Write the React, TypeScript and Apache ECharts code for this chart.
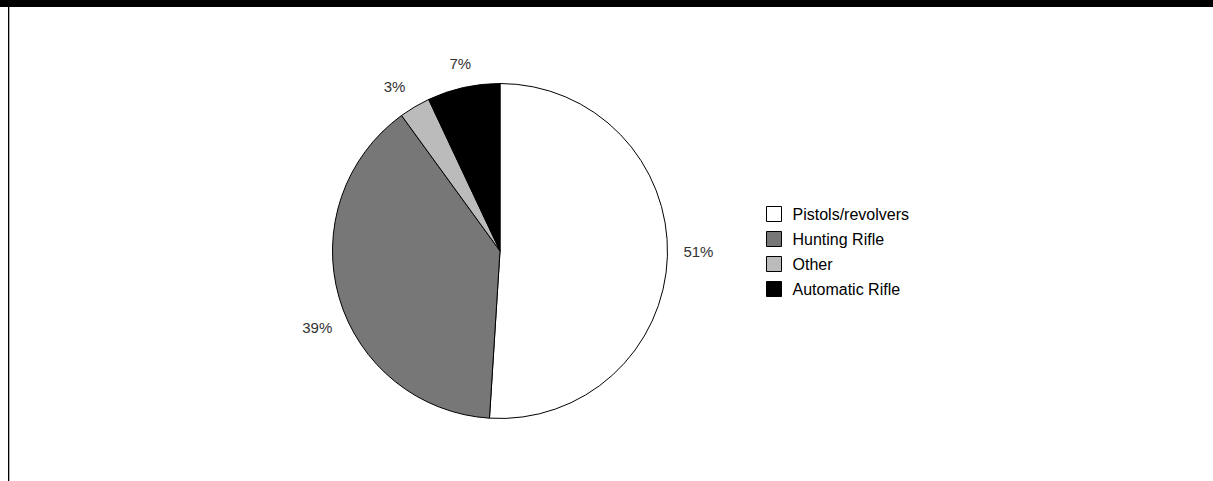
import React, { useEffect, useRef } from "react";
import * as echarts from "echarts";

const categories = ["Pistols/revolvers", "Hunting Rifle", "Other", "Automatic Rifle"];
const shares = [51, 39, 3, 7];
const colors = ["#ffffff", "#777777", "#bbbbbb", "#000000"];

// small per-label nudges to mimic the original label placement
const labelNudgeX = [3, 5, -6, 3];
const labelNudgeY = [-6, 22, 4, 3];

export default function App() {
  const ref = useRef<HTMLDivElement>(null);
  useEffect(() => {
    if (!ref.current) return;
    const chart = echarts.init(ref.current, undefined, { renderer: "svg" });
    chart.setOption({
      animation: false,
      backgroundColor: "#ffffff",
      textStyle: { fontFamily: "Liberation Sans, Arial, sans-serif" },
      graphic: [
        { type: "rect", shape: { x: 0, y: 0, width: 1213, height: 7 }, style: { fill: "#000" } },
        { type: "rect", shape: { x: 8, y: 7, width: 1.3, height: 474 }, style: { fill: "#000" } },
      ],
      legend: {
        orient: "vertical",
        left: 761,
        top: 201,
        itemWidth: 15,
        itemHeight: 15,
        itemGap: 9,
        icon: "rect",
        data: categories,
        itemStyle: { borderColor: "#000", borderWidth: 1 },
        textStyle: { fontSize: 16, color: "#000", padding: [0, 0, 0, 6] },
      },
      series: [
        {
          type: "pie",
          center: [500, 251],
          radius: 167.5,
          startAngle: 90,
          clockwise: true,
          avoidLabelOverlap: false,
          itemStyle: { borderColor: "#000", borderWidth: 1 },
          label: {
            show: true,
            position: "outside",
            formatter: "{c}%",
            fontSize: 15,
            color: "#333",
          },
          labelLine: { show: true, length: 28, length2: 0, lineStyle: { width: 0, opacity: 0 } },
          labelLayout: (params: any) => {
            const pts = params.labelLinePoints;
            if (!pts) return {};
            const i = params.dataIndex;
            return {
              x: pts[1][0] + (labelNudgeX[i] || 0),
              y: pts[1][1] + (labelNudgeY[i] || 0),
              align: "center",
              verticalAlign: "middle",
            };
          },
          data: categories.map((name, i) => ({
            name,
            value: shares[i],
            itemStyle: { color: colors[i] },
          })),
        },
      ],
    });
    return () => chart.dispose();
  }, []);
  return (
    <div
      ref={ref}
      style={{ position: "fixed", left: 0, top: 0, width: 1213, height: 481 }}
    />
  );
}
